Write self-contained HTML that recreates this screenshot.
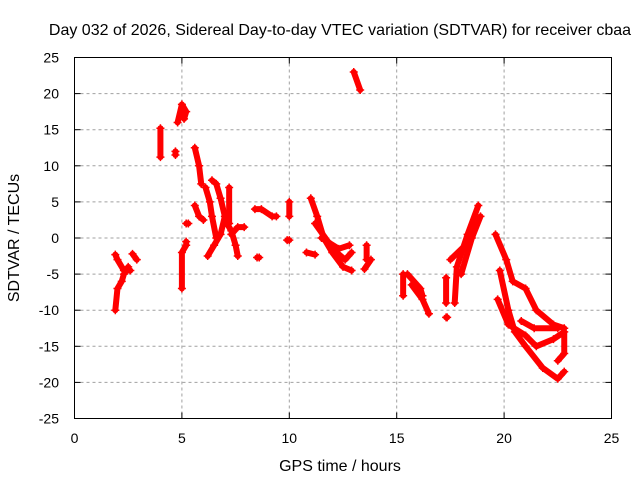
<!DOCTYPE html>
<html><head><meta charset="utf-8"><style>
body{margin:0;background:#fff}
svg text{font-family:"Liberation Sans",sans-serif;font-size:14px;fill:#000}
svg text.big{font-size:16px}
</style></head><body>
<svg id="chart" width="640" height="480" xmlns="http://www.w3.org/2000/svg">
<rect width="640" height="480" fill="#fff"/>
<text class="big" x="340" y="35" text-anchor="middle">Day 032 of 2026, Sidereal Day-to-day VTEC variation (SDTVAR) for receiver cbaa</text>
<text class="big" x="340" y="471" text-anchor="middle">GPS time / hours</text>
<text class="big" transform="translate(19,238) rotate(-90)" text-anchor="middle">SDTVAR / TECUs</text>
<g id="grid"></g><g id="marks"></g>
<rect x="74.5" y="57.5" width="537" height="361" fill="none" stroke="#000" stroke-width="1"/>
<g id="ticks"></g>
</svg>
<script>
const xTicks=[0,5,10,15,20,25];
const yTicks=[25,20,15,10,5,0,-5,-10,-15,-20,-25];
const tracks=[
[[1.9,-2.3],[2.0,-3],[2.3,-4.5],[2.6,-4.5]],
[[1.9,-10],[2.0,-7],[2.2,-6],[2.3,-5],[2.5,-4]],
[[2.7,-2.2],[2.9,-3]],
[[4.0,15.2],[4.0,11.2]],
[[4.7,12],[4.7,11.5]],
[[4.8,16],[5.0,18.5],[5.2,17.5],[5.1,16.5]],
[[5.0,-7],[5.0,-2],[5.2,-1],[5.2,-0.5]],
[[5.2,2],[5.3,2]],
[[5.6,12.5],[5.8,10],[5.9,7.5]],
[[5.6,4.5],[5.8,3],[6.0,2.5]],
[[6.1,7],[6.3,5],[6.4,3],[6.6,0]],
[[6.2,-2.5],[6.5,-1],[6.8,0.5],[7.0,3],[6.8,5.5],[6.6,7.5],[6.4,8]],
[[7.2,7],[7.2,2]],
[[7.1,2],[7.3,1],[7.5,-1],[7.6,-2.5]],
[[7.3,0.5],[7.6,1.5],[7.9,1.5]],
[[8.4,4],[8.7,4],[9.2,3],[9.4,3]],
[[8.5,-2.7],[8.6,-2.7]],
[[10.0,5],[10.0,3]],
[[9.9,-0.3],[10.0,-0.3]],
[[11.0,5.5],[11.3,3],[11.6,0],[12.0,-2],[12.5,-4],[12.9,-4.5]],
[[11.2,2],[11.8,-0.5],[12.2,-2],[12.6,-3],[12.9,-2]],
[[11.5,0],[12.3,-1.5],[12.8,-1]],
[[10.8,-2],[11.2,-2.3]],
[[13.0,23],[13.3,20.5]],
[[13.6,-1],[13.6,-3]],
[[13.8,-3],[13.5,-4.3]],
[[15.3,-5],[15.3,-8]],
[[15.5,-5],[16.1,-7],[16.2,-8]],
[[15.7,-6.5],[16.2,-8.5],[16.5,-10.5]],
[[17.3,-5.5],[17.3,-9]],
[[17.3,-11],[17.35,-11]],
[[17.7,-9],[17.8,-4],[18.3,0.5],[18.8,4.5]],
[[18.0,-5],[18.5,0],[18.9,3]],
[[17.5,-3],[18.2,-1]],
[[19.6,0.5],[20.1,-3],[20.4,-6],[21,-7],[21.5,-10],[22.3,-12],[22.8,-12.5]],
[[19.8,-4.5],[20.2,-10],[20.5,-13],[21,-15],[21.8,-18],[22.5,-19.5],[22.8,-18.5]],
[[19.7,-8.5],[20.2,-12],[21,-13.5],[21.5,-15],[22.3,-14],[22.8,-13],[22.8,-16],[22.5,-17]],
[[20.8,-11.5],[21.4,-12.5],[22.5,-12.5]]
];
const NS="http://www.w3.org/2000/svg";
const X0=74.5,X1=611.5,Y0=418.5,Y1=57.5;
const xs=v=>X0+(v-0)/25*(X1-X0);
const ys=v=>Y0-(v+25)/50*(Y0-Y1);
function mk(tag,attrs,parent){const e=document.createElementNS(NS,tag);for(const k in attrs)e.setAttribute(k,attrs[k]);parent.appendChild(e);return e;}
const grid=document.getElementById('grid'),ticks=document.getElementById('ticks'),marks=document.getElementById('marks');
xTicks.forEach(t=>{const x=xs(t);
 if(t>0&&t<25){const g=mk('line',{x1:x,x2:x,y1:Y1,y2:Y0,stroke:'#a0a0a0','stroke-dasharray':'3,3'},grid);
 
 }
 const l=mk('line',{x1:x,x2:x,y1:Y0,y2:Y0-6,stroke:'#000'},ticks);
 
 
 mk('line',{x1:x,x2:x,y1:Y1,y2:Y1+6,stroke:'#000'},ticks);
 const tx=mk('text',{x:x,y:443,'text-anchor':'middle'},ticks);tx.textContent=t;
 
 
});
yTicks.forEach(t=>{const y=ys(t);
 if(t>-25&&t<25){const g=mk('line',{x1:X0,x2:X1,y1:y,y2:y,stroke:'#a0a0a0','stroke-dasharray':'3,3'},grid);
 
 }
 const l=mk('line',{x1:X0,x2:X0+6,y1:y,y2:y,stroke:'#000'},ticks);
 
 
 mk('line',{x1:X1,x2:X1-6,y1:y,y2:y,stroke:'#000'},ticks);
 const tx=mk('text',{x:59,y:y+5,'text-anchor':'end'},ticks);tx.textContent=t;
 
 
});
tracks.forEach(tr=>{
 const pts=tr.map(p=>xs(p[0])+','+ys(p[1])).join(' ');
 const pl=mk('polyline',{points:pts,fill:'none',stroke:'#ff0000','stroke-width':6,'stroke-linejoin':'round','stroke-linecap':'round'},marks);
 
 
 tr.forEach(p=>{const x=xs(p[0]),y=ys(p[1]);
  const c=mk('path',{d:`M${x-4},${y}H${x+4}M${x},${y-4}V${y+4}`,stroke:'#ff0000','stroke-width':1.5},marks);
  
  
 });
});
</script>
</body></html>
